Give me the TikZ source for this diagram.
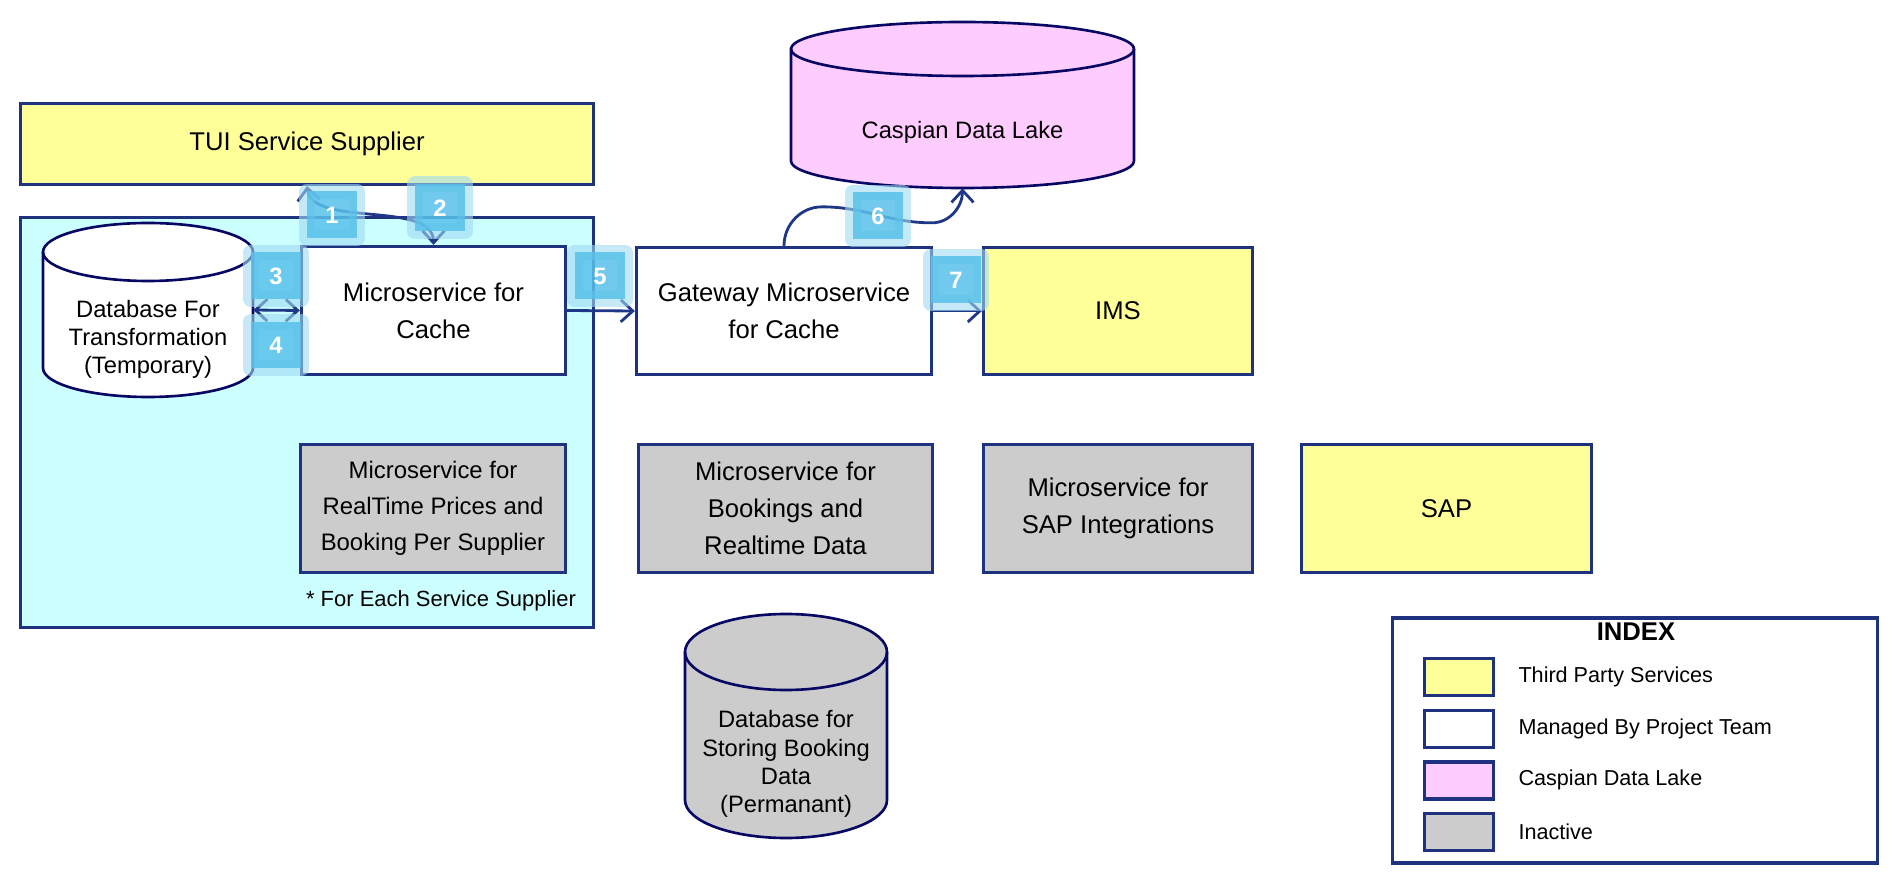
\documentclass[tikz,border=0pt]{standalone}
\usepackage{fontspec}
\setmainfont{Liberation Sans}
\usepackage{tikz}
\usetikzlibrary{arrows.meta, calc, positioning}

\definecolor{BoxNavy}{RGB}{31,50,128}
\definecolor{DrumNavy}{RGB}{8,8,100}
\definecolor{LineNavy}{RGB}{30,55,135}
\definecolor{PartyYellow}{RGB}{255,255,153}
\definecolor{TeamCyan}{RGB}{204,255,255}
\definecolor{LakePink}{RGB}{255,204,255}
\definecolor{IdleGray}{RGB}{204,204,204}
\definecolor{BadgeBlue}{RGB}{88,193,234}
\definecolor{HaloBlue}{RGB}{160,218,242}

\newcommand{\DataDrum}[8]{
	\def\dname{#1}
	\def\dx{#2}
	\def\dy{#3}
	\def\drx{#4}
	\def\dhh{#5}
	\def\dry{#6}
	\filldraw[drum, fill=#7] (\dx-\drx,\dy+\dhh-\dry) -- (\dx-\drx,\dy-\dhh+\dry)
		arc[start angle=180, end angle=360, x radius=\drx*0.02cm, y radius=\dry*0.02cm]
		-- (\dx+\drx,\dy+\dhh-\dry)
		arc[start angle=0, end angle=180, x radius=\drx*0.02cm, y radius=\dry*0.02cm] -- cycle;
	\draw[drum] (\dx-\drx,\dy+\dhh-\dry) arc[start angle=180, end angle=360, x radius=\drx*0.02cm, y radius=\dry*0.02cm];
	\node[inner sep=0, minimum width=\drx*0.04cm, minimum height=\dhh*0.04cm] (\dname) at (\dx,\dy) {};
	\node[drumtext] (\dname-text) at (\dx,\dy-\dry) {#8};
}

\begin{document}
\begin{tikzpicture}[x=0.02cm, y=0.02cm, line cap=round, >={Straight Barb[length=0.24cm, width=0.44cm]},
	box/.style={draw=BoxNavy, line width=1.9pt, align=center, inner sep=0, font=\fontsize{14.6}{21}\selectfont},
	party/.style={box, fill=PartyYellow},
	team/.style={box, fill=white},
	idle/.style={box, fill=IdleGray},
	drum/.style={draw=DrumNavy, line width=1.5pt},
	drumtext/.style={align=center, inner sep=0, font=\fontsize{13.5}{16}\selectfont},
	flow/.style={draw=LineNavy, line width=1.6pt},
	badge/.style={fill=BadgeBlue, fill opacity=0.85, text opacity=1, text=white,
		font=\fontsize{13.5}{13.5}\selectfont\bfseries, minimum width=1cm, minimum height=0.94cm, inner sep=0,
		preaction={draw=HaloBlue, draw opacity=0.6, line width=0.32cm, line join=round}}]

	\useasboundingbox (0,0) rectangle (1892,-884);

	% supplier side
	\node[box, fill=TeamCyan, minimum width=11.46cm, minimum height=8.2cm] (domain) at (307,-422.5) {};
	\node[party, minimum width=11.46cm, minimum height=1.62cm] (tui) at (307,-144) {TUI Service Supplier};

	\node[team, minimum width=5.28cm, minimum height=2.56cm] (cache) at (433.5,-310.5) {Microservice for\\Cache};
	\node[team, minimum width=5.9cm, minimum height=2.54cm] (gate) at (784,-311) {Gateway Microservice\\for Cache};
	\node[party, minimum width=5.38cm, minimum height=2.54cm] (ims) at (1118,-311) {IMS};

	\node[idle, minimum width=5.3cm, minimum height=2.56cm, font=\fontsize{13.6}{20.5}\selectfont] (realtime) at (433,-508.5) {Microservice for\\RealTime Prices and\\Booking Per Supplier};
	\node[idle, minimum width=5.88cm, minimum height=2.56cm] (bookings) at (785.5,-508.5) {Microservice for\\Bookings and\\Realtime Data};
	\node[idle, minimum width=5.38cm, minimum height=2.56cm] (sapint) at (1118,-508.5) {Microservice for\\SAP Integrations};
	\node[party, minimum width=5.8cm, minimum height=2.56cm] (sap) at (1446.5,-508.5) {SAP};

	\node[font=\fontsize{12.5}{15}\selectfont, inner sep=0] (note) at (441,-601) {* For Each Service Supplier};

	\DataDrum{dbt}{148}{-310}{105}{87}{29}{white}{Database For\\Transformation\\(Temporary)}
	\DataDrum{casp}{962.5}{-105}{171.5}{83}{27}{LakePink}{Caspian Data Lake}
	\DataDrum{store}{786}{-726}{101}{112}{38}{IdleGray}{Database for\\Storing Booking\\Data\\(Permanant)}

	% flows
	\draw[flow, <->] (tui.south) .. controls +(5,-42) and +(0,45) .. (cache.north);
	\draw[flow, <->] (dbt.east) -- (cache.west);
	\draw[flow, ->] (cache.east) -- (gate.west);
	\draw[flow, ->] (gate.north) to[out=90,in=180] ++(38,39) to[out=0,in=180] ++(110,-16) to[out=0,in=-90] (casp.south);
	\draw[flow, ->] (gate.east) -- (ims.west);

	\foreach \n/\bx/\by in {1/332/215, 2/440/208, 3/276/276, 4/276/345, 5/600/276, 6/878/216, 7/956/280}
		\node[badge] (badge\n) at (\bx,-\by) {\n};

	% index
	\node[box, fill=white, minimum width=9.7cm, minimum height=4.9cm] (index) at (1635,-740.5) {};
	\node[font=\fontsize{14.6}{16}\selectfont\bfseries, inner sep=0] (indextitle) at (1636,-632) {INDEX};
	\foreach \swfill/\txt [count=\i] in {PartyYellow/Third Party Services, white/Managed By Project Team, LakePink/Caspian Data Lake, IdleGray/Inactive}{
		\node[box, fill=\swfill, minimum width=1.38cm, minimum height=0.74cm] (swatch\i) at (1459,{-677-51.7*(\i-1)}) {};
		\node[right=0.46cm of swatch\i, inner sep=0, font=\fontsize{12.3}{14}\selectfont] (legend\i) {\txt};
	}

\end{tikzpicture}
\end{document}
